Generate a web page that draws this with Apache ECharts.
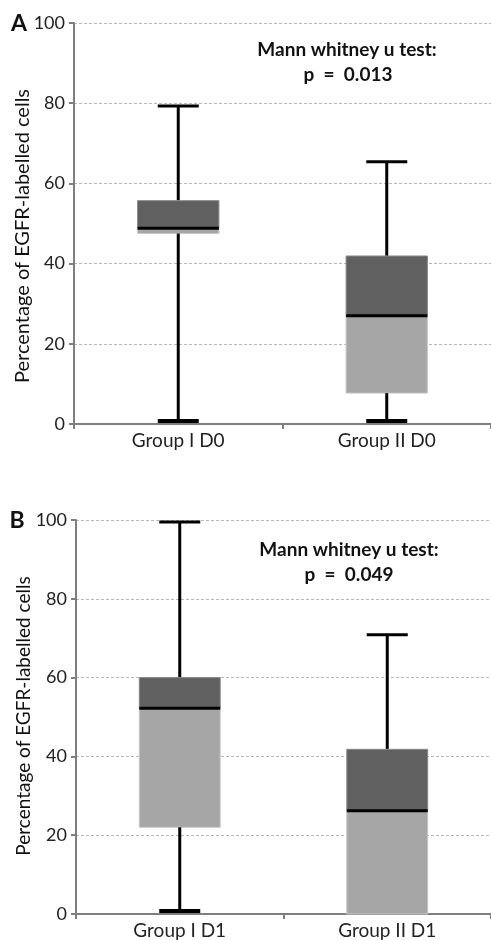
<!DOCTYPE html>
<html>
<head>
<meta charset="utf-8">
<script src="https://cdn.jsdelivr.net/npm/echarts@6/dist/echarts.min.js"></script>
<style>
  html, body { margin: 0; padding: 0; background: #fff; }
  #chart { width: 491px; height: 940px; }
</style>
</head>
<body>
<div id="chart"></div>
<script>
// panel A (day 0) and panel B (day 1)
const categoriesA = ['Group I D0', 'Group II D0'];
const categoriesB = ['Group I D1', 'Group II D1'];
// [min, q1, median, q3, max]
const boxesA = [
  [0.5, 47.5, 48.8, 55.7, 79.3],
  [0.5, 7.7, 27.0, 41.9, 65.4],
];
const boxesB = [
  [0.5, 22.0, 52.2, 60.0, 99.5],
  [0, 0, 26.2, 41.8, 70.9],
];
const pValueA = '0.013';
const pValueB = '0.049';
const yTicks = [0, 20, 40, 60, 80, 100];

const FONT = 'Lato';
const yName = 'Percentage of EGFR-labelled cells';

const chart = echarts.init(document.getElementById('chart'));

function renderBox(params, api) {
  const x = api.value(0);
  const [min, q1, med, q3, max] = [1, 2, 3, 4, 5].map((i) => api.value(i));
  const pMax = api.coord([x, max]);
  const pQ3 = api.coord([x, q3]);
  const pMed = api.coord([x, med]);
  const pQ1 = api.coord([x, q1]);
  const pMin = api.coord([x, min]);
  const cx = pMax[0];
  const boxW = api.size([1, 0])[0] * 0.39;
  const capW = 41;
  const black = { stroke: '#000', lineWidth: 3 };
  const children = [
    { type: 'line', shape: { x1: cx, y1: pMax[1], x2: cx, y2: pQ3[1] }, style: black },
    { type: 'line', shape: { x1: cx - capW / 2, y1: pMax[1], x2: cx + capW / 2, y2: pMax[1] }, style: black },
    { type: 'rect', shape: { x: cx - boxW / 2, y: pQ3[1], width: boxW, height: pMed[1] - pQ3[1] }, style: { fill: '#606060', stroke: '#8a8a8a', lineWidth: 1 } },
    { type: 'rect', shape: { x: cx - boxW / 2, y: pMed[1], width: boxW, height: pQ1[1] - pMed[1] }, style: { fill: '#a6a6a6', stroke: '#c8c8c8', lineWidth: 1 } },
    { type: 'line', shape: { x1: cx - boxW / 2, y1: pMed[1], x2: cx + boxW / 2, y2: pMed[1] }, style: black },
  ];
  if (min < q1) {
    children.push(
      { type: 'line', shape: { x1: cx, y1: pQ1[1], x2: cx, y2: pMin[1] }, style: black },
      { type: 'line', shape: { x1: cx - capW / 2, y1: pMin[1] - 1, x2: cx + capW / 2, y2: pMin[1] - 1 }, style: { stroke: '#000', lineWidth: 4 } }
    );
  }
  return { type: 'group', children };
}

function xAxisFor(gridIndex, cats) {
  return {
    type: 'category',
    gridIndex,
    data: cats,
    boundaryGap: true,
    axisLine: { lineStyle: { color: '#7f7f7f', width: 2 } },
    axisTick: { show: true, length: 5, lineStyle: { color: '#7f7f7f', width: 2 } },
    axisLabel: { color: '#222', fontFamily: FONT, fontSize: 19, margin: 7 },
  };
}

function yAxisFor(gridIndex) {
  return {
    type: 'value',
    gridIndex,
    min: yTicks[0],
    max: yTicks[yTicks.length - 1],
    interval: yTicks[1] - yTicks[0],
    axisLine: { show: true, lineStyle: { color: '#7f7f7f', width: 2 } },
    axisTick: { show: true, length: 5, lineStyle: { color: '#7f7f7f', width: 2 } },
    axisLabel: { color: '#222', fontFamily: FONT, fontSize: 18, margin: 9 },
    splitLine: { lineStyle: { color: '#b8b8b8', type: [3, 2], width: 1 } },
  };
}

function text(x, y, str, size, bold, extra) {
  return Object.assign({
    type: 'text',
    x,
    y,
    style: {
      text: str,
      fill: '#111',
      font: `${bold ? 'bold ' : ''}${size}px ${FONT}`,
      align: 'center',
      verticalAlign: 'middle',
    },
  }, extra || {});
}

chart.setOption({
  animation: false,
  backgroundColor: '#fff',
  grid: [
    { left: 74, top: 23, width: 417, height: 401 },
    { left: 76, top: 520, width: 415, height: 395 },
  ],
  xAxis: [xAxisFor(0, categoriesA), xAxisFor(1, categoriesB)],
  yAxis: [yAxisFor(0), yAxisFor(1)],
  series: [
    {
      type: 'custom',
      xAxisIndex: 0,
      yAxisIndex: 0,
      renderItem: renderBox,
      encode: { x: 0, y: [1, 2, 3, 4, 5] },
      data: boxesA.map((b, i) => [i, ...b]),
      z: 3,
    },
    {
      type: 'custom',
      xAxisIndex: 1,
      yAxisIndex: 1,
      renderItem: renderBox,
      encode: { x: 0, y: [1, 2, 3, 4, 5] },
      data: boxesB.map((b, i) => [i, ...b]),
      z: 3,
    },
  ],
  graphic: [
    text(19, 24, 'A', 23, true),
    text(17, 521, 'B', 23, true),
    text(23, 236, yName, 20, false, { rotation: Math.PI / 2 }),
    text(24, 716, yName, 19, false, { rotation: Math.PI / 2 }),
    text(347, 50, 'Mann whitney u test:', 19, true),
    text(348, 75, `p  =  ${pValueA}`, 19, true),
    text(349, 550, 'Mann whitney u test:', 19, true),
    text(349, 575, `p  =  ${pValueB}`, 19, true),
  ],
});
</script>
</body>
</html>
